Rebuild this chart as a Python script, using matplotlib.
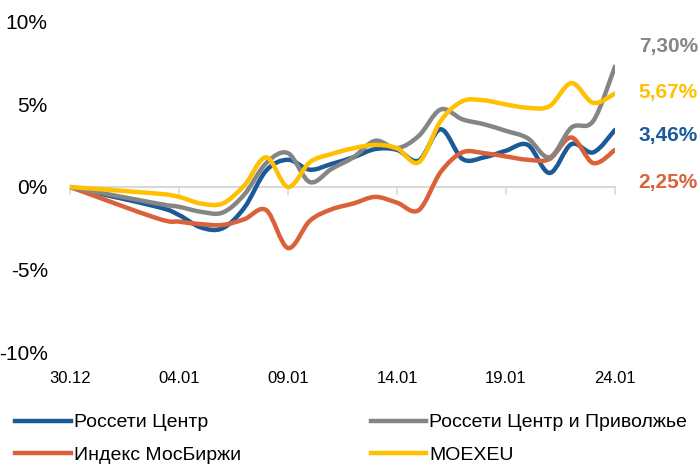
import matplotlib
matplotlib.use("Agg")
import matplotlib.pyplot as plt
from matplotlib.path import Path
from matplotlib.patches import PathPatch
from matplotlib.lines import Line2D
import numpy as np

plt.rcParams['font.family'] = ['Liberation Sans', 'DejaVu Sans']

# дни от 30.12
days = [0, 4, 5, 6, 7, 8, 9, 10, 11, 12, 13, 14, 15, 16, 17, 18, 19, 20, 21, 22, 23, 24, 25]
tick_days = [0, 5, 10, 15, 20, 25]
tick_labels = ['30.12', '04.01', '09.01', '14.01', '19.01', '24.01']

rosseti_centr = [0, -1.2, -1.7, -2.45, -2.5, -1.25, 1.0, 1.65, 1.05, 1.4, 1.8, 2.3, 2.25, 1.6,
                 3.5, 1.7, 1.8, 2.2, 2.55, 0.85, 2.6, 2.1, 3.46]
rosseti_cip = [0, -1.0, -1.2, -1.5, -1.55, -0.45, 1.45, 2.05, 0.3, 1.1, 1.8, 2.8, 2.35, 3.1,
               4.7, 4.1, 3.8, 3.4, 2.95, 1.8, 3.6, 4.0, 7.30]
imoex = [0, -1.9, -2.1, -2.25, -2.3, -1.95, -1.4, -3.7, -2.05, -1.35, -1.0, -0.6, -0.95, -1.4,
         0.9, 2.1, 2.05, 1.85, 1.65, 1.7, 3.0, 1.45, 2.25]
moexeu = [0, -0.4, -0.6, -1.0, -1.0, 0.1, 1.8, 0.0, 1.5, 2.0, 2.35, 2.55, 2.35, 1.5,
          4.0, 5.2, 5.25, 5.0, 4.8, 4.9, 6.3, 5.1, 5.67]

series = [
    ('Россети Центр', rosseti_centr, '#1A5A98'),
    ('Индекс МосБиржи', imoex, '#DA6139'),
    ('Россети Центр и Приволжье', rosseti_cip, '#858585'),
    ('MOEXEU', moexeu, '#FFC000'),
]
end_labels = ['3,46%', '2,25%', '7,30%', '5,67%']
label_y = [3.1, 0.25, 8.5, 5.7]   # положение подписей справа


def smooth_path(x, y):
    # сглаживание как в Excel (Catmull-Rom через кривые Безье)
    p = np.column_stack([x, y]).astype(float)
    n = len(p)
    verts = [p[0]]
    codes = [Path.MOVETO]
    for i in range(n - 1):
        a = p[max(i - 1, 0)]
        b = p[min(i + 2, n - 1)]
        c1 = p[i] + (p[i + 1] - a) / 6
        c2 = p[i + 1] - (b - p[i]) / 6
        verts += [c1, c2, p[i + 1]]
        codes += [Path.CURVE4] * 3
    return Path(verts, codes)


fig = plt.figure(figsize=(7, 4.65), dpi=100)
ax = fig.add_axes([0.1, 0.243, 0.7786, 0.7097])

for name, vals, col in series:
    patch = PathPatch(smooth_path(days, vals), facecolor='none', edgecolor=col,
                      lw=3.2, capstyle='round', joinstyle='round', zorder=3)
    ax.add_patch(patch)

ax.set_xlim(0, 25)
ax.set_ylim(-10, 10)

for s in ['top', 'right', 'left']:
    ax.spines[s].set_visible(False)
ax.spines['bottom'].set_position(('data', 0))
ax.spines['bottom'].set_color('#D9D9D9')
ax.spines['bottom'].set_linewidth(1.5)
ax.spines['bottom'].set_zorder(1)
ax.set_xticks(tick_days)
ax.tick_params(axis='x', direction='out', length=6, width=1.2, color='#D9D9D9', labelbottom=False)

sec = ax.secondary_xaxis('bottom')
sec.set_xticks(tick_days, tick_labels)
sec.tick_params(length=0, pad=14, labelsize=12)
sec.spines['bottom'].set_visible(False)

ax.set_yticks([-10, -5, 0, 5, 10], ['-10%', '-5%', '0%', '5%', '10%'])
ax.tick_params(axis='y', length=0, pad=16, labelsize=15)

for (name, vals, col), lab, ly in zip(series, end_labels, label_y):
    ax.annotate(lab, xy=(1.0, ly), xycoords=('axes fraction', 'data'),
                xytext=(17, 0), textcoords='offset points', color=col,
                fontsize=15, fontweight='bold', va='center', ha='left')

handles = [Line2D([], [], color=c, lw=3.2) for _, _, c in series]
names = [s[0] for s in series]
leg_kw = dict(loc='upper left', frameon=False, fontsize=14, handlelength=2.85,
              handletextpad=0.15, labelspacing=0.75, borderaxespad=0, borderpad=0)
fig.legend(handles[:2], names[:2], bbox_to_anchor=(0.022, 0.11), **leg_kw)
fig.legend(handles[2:], names[2:], bbox_to_anchor=(0.53, 0.11), **leg_kw)

fig.savefig('out.png', dpi=100)
